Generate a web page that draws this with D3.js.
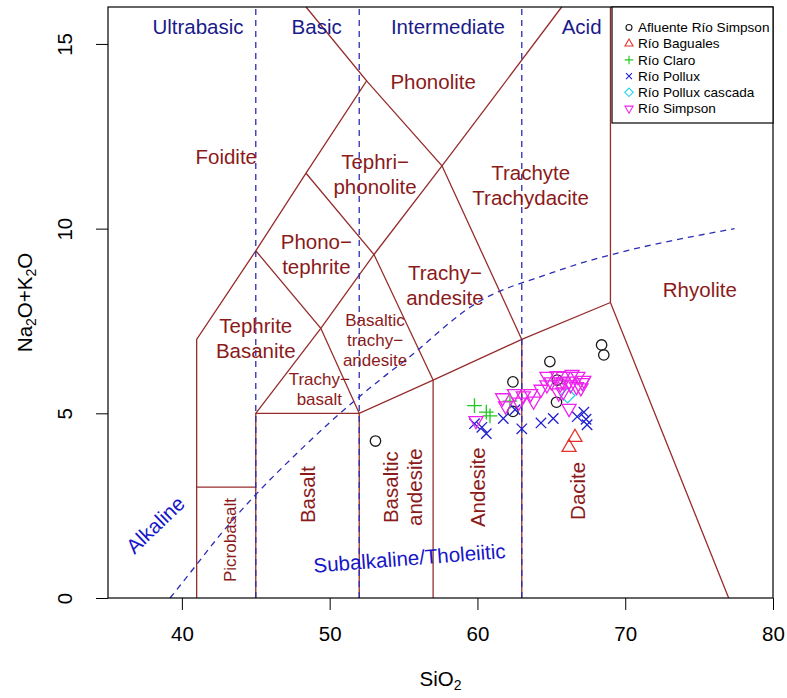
<!DOCTYPE html>
<html><head><meta charset="utf-8">
<script src="https://cdn.jsdelivr.net/npm/d3@7"></script>
<style>
html,body{margin:0;padding:0;background:#fff;}
text{font-family:"Liberation Sans",Arial,Helvetica,sans-serif;}
</style></head>
<body>
<svg id="chart" width="787" height="698"></svg>
<script>
// ---------- data ----------
const xTicks = [40, 50, 60, 70, 80];
const yTicks = [0, 5, 10, 15];
const seriesNames = ["Afluente Río Simpson", "Río Baguales", "Río Claro", "Río Pollux", "Río Pollux cascada", "Río Simpson"];
const afluenteRioSimpson = [[53.1,4.25],[62.4,5.85],[62.4,5.05],[64.9,6.4],[65.4,5.9],[65.35,5.3],[68.4,6.85],[68.55,6.58]];
const rioBaguales = [[66.6,4.35],[66.2,4.08]];
const rioClaro = [[59.8,5.21],[60.6,5.03],[60.85,4.93],[62.2,5.33]];
const rioPollux = [[59.8,4.72],[60.3,4.62],[60.6,4.45],[61.75,4.86],[62.55,5.1],[63.0,4.58],[64.3,4.74],[65.13,4.86],[66.75,4.91],[67.2,5.03],[67.35,4.84],[67.42,4.69]];
const rioPolluxCascada = [[66.1,5.48]];
const rioSimpson = [[59.9,4.8],[61.7,5.42],[61.9,5.2],[62.5,5.53],[62.8,5.3],[63.1,5.47],[63.6,5.53],[63.8,5.33],[64.3,5.65],[64.7,5.77],[64.7,6.0],[65.0,5.85],[65.4,6.02],[65.8,6.0],[65.8,5.85],[66.2,5.87],[66.4,6.05],[66.8,6.0],[67.1,5.83],[66.7,5.72],[66.3,5.77],[65.6,5.79],[65.8,5.58],[65.5,5.55],[66.2,5.13],[67.0,5.69],[67.2,5.89]];
const seriesData = [afluenteRioSimpson, rioBaguales, rioClaro, rioPollux, rioPolluxCascada, rioSimpson];

// TAS field boundaries (SiO2, Na2O+K2O)
const tasLines = [
  [[41,0],[41,7],[45,9.4],[48.4,11.5],[52.5,14],[48.4,16]],
  [[41,3],[45,3]],
  [[45,0],[45,5],[52,5],[57,5.9],[63,7],[69,8],[77,0]],
  [[52,0],[52,5]],
  [[57,0],[57,5.9]],
  [[63,0],[63,7]],
  [[69,8],[69,16]],
  [[45,5],[49.4,7.3],[53,9.3],[57.6,11.7],[61,13.5],[65.7,16]],
  [[45,9.4],[49.4,7.3],[52,5]],
  [[48.4,11.5],[53,9.3],[57,5.9]],
  [[52.5,14],[57.6,11.7],[63,7]]
];
const silicaDivisions = [45, 52, 63];
const alkalineCurve = [[39.2,0],[40,0.4],[43.2,2],[45,2.8],[48,4],[50,4.75],[53.7,6],[55,6.4],[60,8],[65,8.8],[77.4,10]];

const topLabels = [["Ultrabasic",41.09],["Basic",49.12],["Intermediate",58.0],["Acid",67.05]];
const fieldLabels = [
  {t:["Foidite"], x:43.0, y:11.94, big:true},
  {t:["Phonolite"], x:57.0, y:13.97, big:true},
  {t:["Tephri\u2212","phonolite"], x:53.07, y:11.46, big:true},
  {t:["Phono\u2212","tephrite"], x:49.1, y:9.3, big:true},
  {t:["Trachyte","Trachydacite"], x:63.6, y:11.17, big:true},
  {t:["Trachy\u2212","andesite"], x:57.8, y:8.47, big:true},
  {t:["Basaltic","trachy\u2212","andesite"], x:53.07, y:6.98, big:false},
  {t:["Trachy\u2212","basalt"], x:49.3, y:5.66, big:false},
  {t:["Tephrite","Basanite"], x:45.0, y:7.04, big:true},
  {t:["Rhyolite"], x:75.05, y:8.34, big:true}
];
const rotatedLabels = [
  {t:["Picrobasalt"], x:43.25, y:1.57, big:false},
  {t:["Basalt"], x:48.5, y:2.8, big:true},
  {t:["Basaltic","andesite"], x:54.95, y:3.0, big:true},
  {t:["Andesite"], x:60.0, y:3.0, big:true},
  {t:["Dacite"], x:66.8, y:2.9, big:true}
];

// ---------- layout ----------
const M = {left:108, right:773, top:7, bottom:598};
const x = d3.scaleLinear().domain([35,80]).range([M.left, M.right]);
const y = d3.scaleLinear().domain([0,16]).range([M.bottom, M.top]);
const svg = d3.select("#chart");

const lineCol = "#962d2d", textRed = "#8b1a1a", dashBlue = "#2c2cb4", navy = "#1a1a8a", textBlue = "#1616c8";
const colors = ["#1a1a1a", "#e8302a", "#1fc71f", "#2020d0", "#22d3e6", "#ee22ee"];
const pchs = [1, 2, 3, 4, 5, 6];

const line = d3.line().x(d => x(d[0])).y(d => y(d[1]));

// field lines
svg.append("g").selectAll("path").data(tasLines).join("path")
  .attr("d", line).attr("fill","none").attr("stroke", lineCol).attr("stroke-width",1.3);

// silica divisions
svg.append("g").selectAll("line").data(silicaDivisions).join("line")
  .attr("x1", d=>x(d)).attr("x2", d=>x(d)).attr("y1", y(0)).attr("y2", y(16))
  .attr("stroke", dashBlue).attr("stroke-width",1.3).attr("stroke-dasharray","6,5");

// alkaline / subalkaline curve
svg.append("path").datum(alkalineCurve).attr("d", line.curve(d3.curveMonotoneX))
  .attr("fill","none").attr("stroke", dashBlue).attr("stroke-width",1.3).attr("stroke-dasharray","6,5");

// top labels
svg.append("g").selectAll("text").data(topLabels).join("text")
  .attr("x", d=>x(d[1])).attr("y", 27).attr("dy","0.35em")
  .attr("text-anchor","middle").attr("font-size", 20.5).attr("fill", navy).text(d=>d[0]);

// field labels
function multiText(g, d, rotate) {
  const fs = d.big ? 20.5 : 17;
  const lh = d.big ? 25 : 20;
  const n = d.t.length;
  const t = g.append("text")
    .attr("font-size", fs).attr("fill", textRed).attr("text-anchor","middle")
    .attr("transform", `translate(${x(d.x)},${y(d.y)})` + (rotate ? " rotate(-90)" : ""));
  d.t.forEach((s,i) => {
    t.append("tspan").attr("x",0).attr("y", (i - (n-1)/2) * lh).attr("dy","0.35em").text(s);
  });
}
const gl = svg.append("g");
fieldLabels.forEach(d => multiText(gl, d, false));
rotatedLabels.forEach(d => multiText(gl, d, true));

// Alkaline / Subalkaline labels
svg.append("text").attr("transform", `translate(${x(38.2)},${y(1.98)}) rotate(-44)`)
  .attr("text-anchor","middle").attr("dy","0.35em").attr("font-size",20.5).attr("fill", textBlue).text("Alkaline");
svg.append("text").attr("transform", `translate(${x(55.4)},${y(1.08)}) rotate(-4.4)`)
  .attr("text-anchor","middle").attr("dy","0.35em").attr("font-size",20.5).attr("fill", textBlue).text("Subalkaline/Tholeiitic");

// symbols (R pch geometry)
function symbolPath(pch, cx, cy, R) {
  const a = 1.5551*R, h = 1.3468*R, b = 0.7776*R, s = Math.SQRT2*R;
  switch (pch) {
    case 1: return `M${cx+R},${cy}A${R},${R} 0 1,1 ${cx-R},${cy}A${R},${R} 0 1,1 ${cx+R},${cy}Z`;
    case 2: return `M${cx},${cy-a}L${cx+h},${cy+b}L${cx-h},${cy+b}Z`;
    case 3: return `M${cx-s},${cy}L${cx+s},${cy}M${cx},${cy-s}L${cx},${cy+s}`;
    case 4: return `M${cx-R},${cy-R}L${cx+R},${cy+R}M${cx-R},${cy+R}L${cx+R},${cy-R}`;
    case 5: return `M${cx},${cy-s}L${cx+s},${cy}L${cx},${cy+s}L${cx-s},${cy}Z`;
    case 6: return `M${cx},${cy+a}L${cx+h},${cy-b}L${cx-h},${cy-b}Z`;
  }
}
const gp = svg.append("g");
seriesData.forEach((arr, i) => {
  gp.append("g").selectAll("path").data(arr).join("path")
    .attr("d", d => symbolPath(pchs[i], x(d[0]), y(d[1]), 5.2))
    .attr("fill","none").attr("stroke", colors[i]).attr("stroke-width",1.3);
});

// axes
const gx = svg.append("g").attr("transform", `translate(0,${M.bottom})`)
  .call(d3.axisBottom(x).tickValues(xTicks).tickSize(12).tickFormat(d3.format("d")));
gx.select(".domain").remove();
gx.selectAll("line").attr("stroke","#000");
gx.selectAll("text").attr("y",36).attr("dy","0.35em").attr("font-size",20.5).attr("fill","#000")
  .attr("font-family",'"Liberation Sans",Arial,sans-serif');

const gy = svg.append("g").attr("transform", `translate(${M.left},0)`)
  .call(d3.axisLeft(y).tickValues(yTicks).tickSize(12).tickFormat(d3.format("d")));
gy.select(".domain").remove();
gy.selectAll("line").attr("stroke","#000");
gy.selectAll("text").attr("x",0).attr("y",0).attr("dy","0.35em").attr("text-anchor","middle")
  .attr("transform","translate(-43,0) rotate(-90)").attr("font-size",20.5).attr("fill","#000")
  .attr("font-family",'"Liberation Sans",Arial,sans-serif');

// box
svg.append("rect").attr("x",M.left).attr("y",M.top).attr("width",M.right-M.left).attr("height",M.bottom-M.top)
  .attr("fill","none").attr("stroke","#000").attr("stroke-width",1.2);

// axis titles
const xt = svg.append("text").attr("x",(M.left+M.right)/2).attr("y",679).attr("dy","0.35em")
  .attr("text-anchor","middle").attr("font-size",20.5);
xt.append("tspan").text("SiO");
xt.append("tspan").attr("font-size",14).attr("dy","0.25em").text("2");

const yt = svg.append("text").attr("transform",`translate(25,${(M.top+M.bottom)/2}) rotate(-90)`)
  .attr("text-anchor","middle").attr("font-size",20.5);
yt.append("tspan").attr("dy","0.35em").text("Na");
yt.append("tspan").attr("font-size",14).attr("dy","0.25em").text("2");
yt.append("tspan").attr("dy","-0.17em").text("O+K");
yt.append("tspan").attr("font-size",14).attr("dy","0.25em").text("2");
yt.append("tspan").attr("dy","-0.17em").text("O");

// legend
const L = {x0:612, y0:M.top, x1:M.right, y1:123};
const gLeg = svg.append("g");
gLeg.append("rect").attr("x",L.x0).attr("y",L.y0).attr("width",L.x1-L.x0).attr("height",L.y1-L.y0)
  .attr("fill","#fff").attr("stroke","#000").attr("stroke-width",1.2);
seriesNames.forEach((name, i) => {
  const cy = 27.5 + i*16.2;
  gLeg.append("path").attr("d", symbolPath(pchs[i], 629, cy, 3.0))
    .attr("fill","none").attr("stroke", colors[i]).attr("stroke-width",1.1);
  gLeg.append("text").attr("x",638).attr("y",cy).attr("dy","0.35em").attr("font-size",13.6).text(name);
});
</script>
</body></html>
